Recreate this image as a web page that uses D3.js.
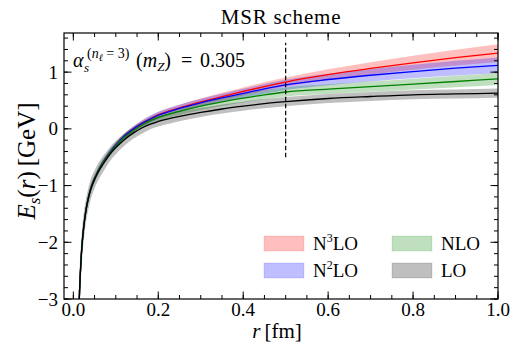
<!DOCTYPE html>
<html>
<head>
<meta charset="utf-8">
<script src="https://cdn.jsdelivr.net/npm/d3@7"></script>
<style>
  body { margin: 0; background: #fff; }
  svg text { font-family: "Liberation Serif", "Times New Roman", "DejaVu Serif", serif; }
</style>
</head>
<body>
<svg width="513" height="344" font-family="Liberation Serif, serif"></svg>
<script>
// radial distance r [fm]
var rVals = [0.012, 0.014, 0.016, 0.018, 0.021, 0.025, 0.03, 0.035, 0.04, 0.045, 0.05, 0.06, 0.07, 0.08, 0.09, 0.10,
             0.12, 0.14, 0.16, 0.18, 0.20, 0.25, 0.30, 0.35, 0.40, 0.45, 0.50, 0.60, 0.70, 0.80, 0.90, 1.00];

// central values E_s(r) [GeV]
var loVals   = [-3.6, -3.0, -2.62, -2.33, -2.0, -1.70, -1.43, -1.24, -1.09, -0.98, -0.89, -0.74, -0.62, -0.51, -0.41, -0.33,
                -0.19, -0.08, 0.01, 0.08, 0.13, 0.22, 0.29, 0.35, 0.40, 0.445, 0.48, 0.535, 0.57, 0.60, 0.615, 0.63];
var nloVals  = [-3.6, -3.0, -2.62, -2.32, -1.99, -1.69, -1.42, -1.23, -1.08, -0.97, -0.88, -0.72, -0.60, -0.49, -0.39, -0.30,
                -0.15, -0.04, 0.06, 0.14, 0.20, 0.31, 0.40, 0.475, 0.54, 0.60, 0.65, 0.70, 0.745, 0.79, 0.835, 0.88];
var n2loVals = [-3.6, -3.0, -2.62, -2.32, -1.99, -1.69, -1.42, -1.23, -1.08, -0.97, -0.88, -0.72, -0.59, -0.48, -0.38, -0.29,
                -0.13, -0.01, 0.09, 0.17, 0.24, 0.36, 0.46, 0.545, 0.625, 0.705, 0.775, 0.87, 0.945, 1.01, 1.07, 1.12];
var n3loVals = [-3.6, -3.0, -2.62, -2.32, -1.99, -1.69, -1.42, -1.23, -1.08, -0.97, -0.88, -0.72, -0.59, -0.48, -0.38, -0.29,
                -0.13, -0.01, 0.09, 0.17, 0.245, 0.37, 0.475, 0.57, 0.66, 0.745, 0.825, 0.955, 1.065, 1.165, 1.255, 1.335];

// half widths of the uncertainty bands [GeV]
var loErr   = [0.5, 0.4, 0.35, 0.3, 0.27, 0.24, 0.21, 0.19, 0.18, 0.17, 0.16, 0.15, 0.14, 0.13, 0.12, 0.12,
               0.11, 0.10, 0.10, 0.09, 0.09, 0.085, 0.08, 0.08, 0.08, 0.08, 0.08, 0.08, 0.08, 0.08, 0.08, 0.08];
var nloErr  = [0.2, 0.18, 0.16, 0.15, 0.14, 0.12, 0.1, 0.09, 0.08, 0.075, 0.07, 0.065, 0.06, 0.06, 0.06, 0.06,
               0.06, 0.06, 0.06, 0.06, 0.06, 0.065, 0.07, 0.07, 0.075, 0.08, 0.08, 0.085, 0.09, 0.095, 0.10, 0.105];
var n2loErr = [0.15, 0.13, 0.12, 0.11, 0.1, 0.09, 0.08, 0.07, 0.06, 0.06, 0.055, 0.05, 0.05, 0.05, 0.05, 0.05,
               0.05, 0.05, 0.055, 0.06, 0.06, 0.065, 0.07, 0.075, 0.08, 0.085, 0.09, 0.10, 0.11, 0.12, 0.13, 0.14];
var n3loErr = [0.12, 0.1, 0.09, 0.08, 0.07, 0.06, 0.06, 0.05, 0.05, 0.05, 0.045, 0.04, 0.04, 0.04, 0.04, 0.04,
               0.04, 0.045, 0.045, 0.05, 0.05, 0.055, 0.06, 0.065, 0.07, 0.075, 0.08, 0.095, 0.11, 0.125, 0.14, 0.155];

var xTicks = [0.0, 0.2, 0.4, 0.6, 0.8, 1.0];
var yTicks = [-3, -2, -1, 0, 1];
var refR = 0.5;

var series = [
  {name: "N3LO", sup: "3", vals: n3loVals, err: n3loErr, color: "#ff0000"},
  {name: "N2LO", sup: "2", vals: n2loVals, err: n2loErr, color: "#0000ff"},
  {name: "NLO",  sup: "",  vals: nloVals,  err: nloErr,  color: "#008000"},
  {name: "LO",   sup: "",  vals: loVals,   err: loErr,   color: "#000000"}
];

var svg = d3.select("svg");
// plot box (note: "top" is reserved on window, so use m-prefixed names)
var mLeft = 64, mRight = 498, mTop = 33, mBottom = 299;

var x = d3.scaleLinear().domain([-0.022, 1.0]).range([mLeft, mRight]);
var y = d3.scaleLinear().domain([-3, 1.69]).range([mBottom, mTop]);

svg.append("defs").append("clipPath").attr("id", "clip")
  .append("rect").attr("x", mLeft).attr("y", mTop).attr("width", mRight - mLeft).attr("height", mBottom - mTop);

var plot = svg.append("g").attr("clip-path", "url(#clip)");

//bands first, then the lines on top
series.forEach(function(s) {
  var pts = rVals.map(function(r, i) { return {r: r, v: s.vals[i], e: s.err[i]}; });
  var area = d3.area().curve(d3.curveMonotoneX)
      .x(function(d) { return x(d.r); })
      .y0(function(d) { return y(d.v - d.e); })
      .y1(function(d) { return y(d.v + d.e); });
  plot.append("path").datum(pts)
      .attr("d", area)
      .attr("fill", s.color)
      .attr("fill-opacity", 0.25)
      .attr("stroke", "none");
});

series.forEach(function(s) {
  var pts = rVals.map(function(r, i) { return {r: r, v: s.vals[i]}; });
  var line = d3.line().curve(d3.curveMonotoneX)
      .x(function(d) { return x(d.r); })
      .y(function(d) { return y(d.v); });
  plot.append("path").datum(pts)
      .attr("d", line)
      .attr("fill", "none")
      .attr("stroke", s.color)
      .attr("stroke-width", 1.3);
});

// dashed reference line at r = 0.5 fm
svg.append("line")
    .attr("x1", x(refR)).attr("x2", x(refR))
    .attr("y1", y(-0.5)).attr("y2", y(1.52))
    .attr("stroke", "#000").attr("stroke-width", 1.2)
    .attr("stroke-dasharray", "4.5,2.5");

// frame + inward ticks on all sides
var xMinor = d3.range(0, 1.0001, 0.05);
var yMinor = d3.range(-3, 1.69, 0.2);
function tickMarks(vals, len, axis) {
  vals.forEach(function(v) {
    if (axis === "x") {
      var px = x(v);
      svg.append("line").attr("x1", px).attr("x2", px).attr("y1", mBottom).attr("y2", mBottom - len)
        .attr("stroke", "#000").attr("stroke-width", 1);
      svg.append("line").attr("x1", px).attr("x2", px).attr("y1", mTop).attr("y2", mTop + len)
        .attr("stroke", "#000").attr("stroke-width", 1);
    } else {
      var py = y(v);
      svg.append("line").attr("x1", mLeft).attr("x2", mLeft + len).attr("y1", py).attr("y2", py)
        .attr("stroke", "#000").attr("stroke-width", 1);
      svg.append("line").attr("x1", mRight).attr("x2", mRight - len).attr("y1", py).attr("y2", py)
        .attr("stroke", "#000").attr("stroke-width", 1);
    }
  });
}
tickMarks(xMinor, 4, "x");
tickMarks(xTicks, 7.5, "x");
tickMarks(yMinor, 4, "y");
tickMarks(yTicks, 7.5, "y");

svg.append("rect").attr("x", mLeft).attr("y", mTop).attr("width", mRight - mLeft).attr("height", mBottom - mTop)
  .attr("fill", "none").attr("stroke", "#000").attr("stroke-width", 1.2);

// tick labels
svg.append("g").selectAll("text").data(xTicks).enter().append("text")
  .attr("x", function(d) { return x(d); })
  .attr("y", mBottom + 17)
  .attr("text-anchor", "middle")
  .attr("font-size", 19)
  .text(function(d) { return d.toFixed(1); });

svg.append("g").selectAll("text").data(yTicks).enter().append("text")
  .attr("x", mLeft - 6)
  .attr("y", function(d) { return y(d) + 6.5; })
  .attr("text-anchor", "end")
  .attr("font-size", 19)
  .text(function(d) { return d < 0 ? "\u2212" + Math.abs(d) : d; });

// title and axis labels
svg.append("text").attr("x", (mLeft + mRight) / 2).attr("y", 24)
  .attr("text-anchor", "middle").attr("font-size", 21).attr("letter-spacing", 0.8)
  .text("MSR scheme");

var xl = svg.append("text").attr("x", 277).attr("y", 338)
  .attr("text-anchor", "middle").attr("font-size", 21);
xl.append("tspan").attr("font-style", "italic").text("r");
xl.append("tspan").text("\u2009[fm]");

var yl = svg.append("text").attr("transform", "translate(35,161) rotate(-90)")
  .attr("text-anchor", "middle").attr("font-size", 25);
yl.append("tspan").attr("font-style", "italic").text("E");
yl.append("tspan").attr("font-style", "italic").attr("font-size", 17).attr("dy", 5).text("s");
yl.append("tspan").attr("dy", -5).text("(");
yl.append("tspan").attr("font-style", "italic").text("r");
yl.append("tspan").text(")\u2009[GeV]");

// coupling annotation
var an = svg.append("text").attr("font-size", 20);
an.append("tspan").attr("x", 73).attr("y", 67).attr("font-style", "italic").text("\u03b1");
an.append("tspan").attr("x", 84).attr("y", 72).attr("font-style", "italic").attr("font-size", 13).text("s");
an.append("tspan").attr("x", 87).attr("y", 58).attr("font-size", 14).text("(");
an.append("tspan").attr("font-style", "italic").attr("font-size", 14).text("n");
an.append("tspan").attr("font-style", "italic").attr("font-size", 10).attr("dy", 3).text("\u2113");
an.append("tspan").attr("font-size", 14).attr("dy", -3).text(" = 3)");
an.append("tspan").attr("x", 136).attr("y", 67).text("(");
an.append("tspan").attr("font-style", "italic").text("m");
an.append("tspan").attr("font-style", "italic").attr("font-size", 13).attr("dy", 4).text("Z");
an.append("tspan").attr("dy", -4).text(")");
an.append("tspan").attr("x", 181).text("=");
an.append("tspan").attr("x", 200).text("0.305");

// legend
var legPos = [
  {s: series[0], x: 264, y: 236},
  {s: series[2], x: 392, y: 236},
  {s: series[1], x: 264, y: 263},
  {s: series[3], x: 392, y: 263}
];
legPos.forEach(function(p) {
  svg.append("rect").attr("x", p.x).attr("y", p.y).attr("width", 40).attr("height", 15)
    .attr("fill", p.s.color).attr("fill-opacity", 0.25)
    .attr("stroke", p.s.color).attr("stroke-opacity", 0.12);
  var t = svg.append("text").attr("x", p.x + 49).attr("y", p.y + 14).attr("font-size", 19);
  if (p.s.sup) {
    t.append("tspan").text("N");
    t.append("tspan").attr("font-size", 12).attr("dy", -8).text(p.s.sup);
    t.append("tspan").attr("dy", 8).text("LO");
  } else {
    t.text(p.s.name);
  }
});
</script>
</body>
</html>
